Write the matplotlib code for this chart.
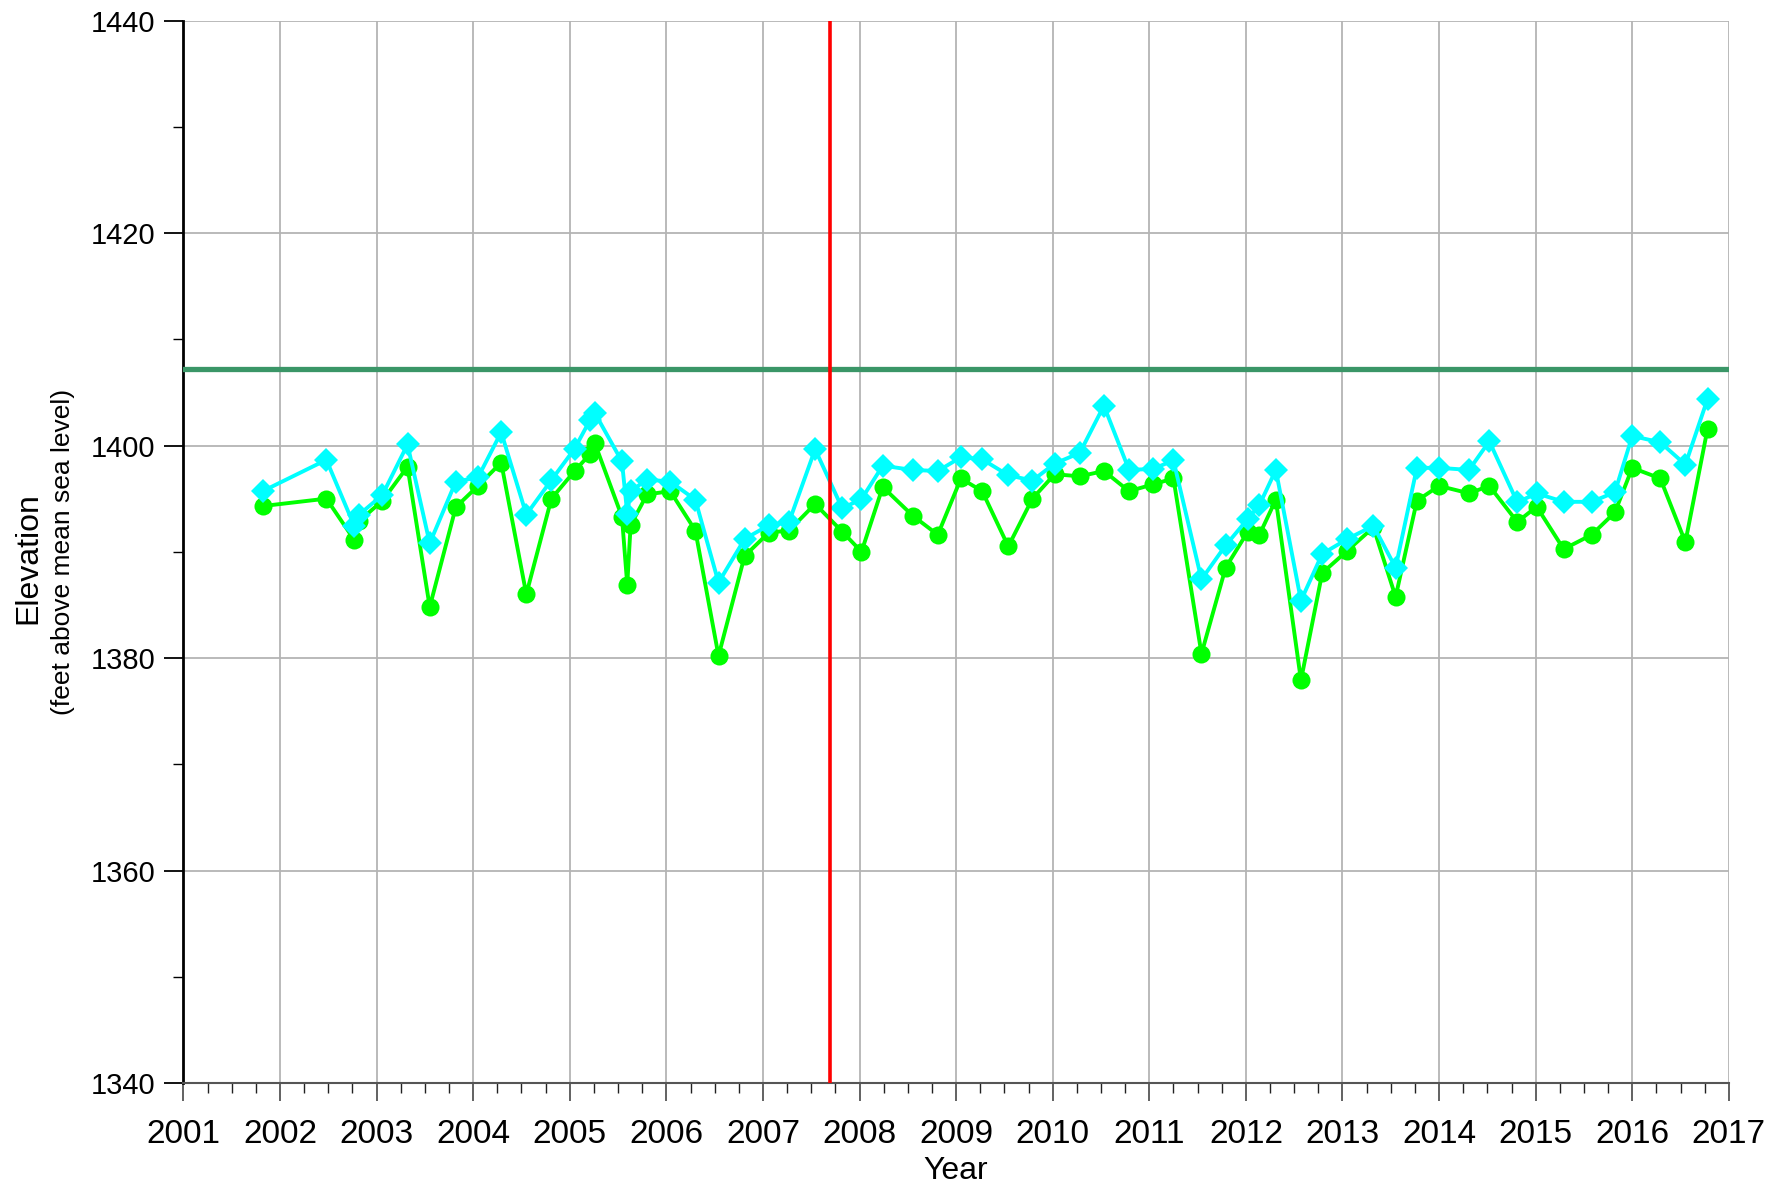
import matplotlib
matplotlib.use("Agg")
import matplotlib.pyplot as plt
from matplotlib.ticker import MultipleLocator

plt.rcParams['font.family'] = ['Liberation Sans', 'DejaVu Sans']

# decimal years of each measurement
dates = [2001.82, 2002.48, 2002.77, 2002.82, 2003.06, 2003.32, 2003.55, 2003.82,
         2004.05, 2004.29, 2004.55, 2004.81, 2005.05, 2005.21, 2005.26, 2005.54,
         2005.595, 2005.63, 2005.80, 2006.04, 2006.30, 2006.54, 2006.81, 2007.06,
         2007.27, 2007.54, 2007.82, 2008.02, 2008.24, 2008.55, 2008.81, 2009.05,
         2009.27, 2009.54, 2009.79, 2010.02, 2010.28, 2010.53, 2010.79, 2011.04,
         2011.25, 2011.54, 2011.79, 2012.02, 2012.14, 2012.31, 2012.57, 2012.79,
         2013.05, 2013.32, 2013.55, 2013.77, 2014.00, 2014.31, 2014.52, 2014.81,
         2015.01, 2015.29, 2015.58, 2015.82, 2016.00, 2016.29, 2016.55, 2016.78]

# green circles
lower_elev = [1394.3, 1395.0, 1391.1, 1392.9, 1394.8, 1398.0, 1384.8, 1394.2,
              1396.2, 1398.4, 1386.0, 1395.0, 1397.6, 1399.2, 1400.2, 1393.3,
              1386.9, 1392.5, 1395.4, 1395.7, 1392.0, 1380.2, 1389.6, 1391.8,
              1392.0, 1394.5, 1391.9, 1390.0, 1396.1, 1393.4, 1391.6, 1396.9,
              1395.7, 1390.5, 1395.0, 1397.3, 1397.1, 1397.6, 1395.7, 1396.35,
              1396.9, 1380.4, 1388.5, 1391.9, 1391.6, 1394.9, 1377.9, 1388.0,
              1390.1, 1392.3, 1385.75, 1394.8, 1396.2, 1395.5, 1396.2, 1392.8,
              1394.25, 1390.25, 1391.6, 1393.7, 1397.9, 1396.9, 1390.9, 1401.6]

# cyan diamonds
upper_elev = [1395.7, 1398.65, 1392.4, 1393.5, 1395.35, 1400.1, 1390.8, 1396.6,
              1397.0, 1401.25, 1393.5, 1396.75, 1399.7, 1402.4, 1403.05, 1398.5,
              1393.6, 1395.7, 1396.8, 1396.6, 1394.9, 1387.1, 1391.2, 1392.5,
              1392.8, 1399.65, 1394.1, 1394.95, 1398.1, 1397.7, 1397.6, 1398.9,
              1398.7, 1397.2, 1396.7, 1398.3, 1399.3, 1403.75, 1397.7, 1397.8,
              1398.6, 1387.4, 1390.6, 1393.1, 1394.4, 1397.7, 1385.4, 1389.8,
              1391.2, 1392.45, 1388.5, 1397.9, 1397.9, 1397.7, 1400.4, 1394.65,
              1395.5, 1394.7, 1394.7, 1395.6, 1400.9, 1400.3, 1398.2, 1404.4]

reference_elev = 1407.2
marker_date = 2007.69

year_ticks = list(range(2001, 2018))

fig = plt.figure(figsize=(17.86, 11.93), dpi=100)
ax = fig.add_axes([0.1027, 0.0922, 0.8653, 0.8906])

ax.plot(dates, lower_elev, color='#00ff00', lw=2.8, marker='o', ms=13,
        markeredgewidth=0, zorder=4)
ax.plot(dates, upper_elev, color='#00ffff', lw=2.8, marker='D', ms=12,
        markeredgewidth=0, zorder=5)
ax.axhline(reference_elev, color='#3a9667', lw=3.8, zorder=3)
ax.axvline(marker_date, color='#ff0000', lw=2.6, zorder=6)

ax.set_xlim(2001, 2017)
ax.set_ylim(1340, 1440)
ax.set_xticks(year_ticks)
ax.set_xticklabels([str(y) for y in year_ticks], fontsize=24)
ax.xaxis.set_minor_locator(MultipleLocator(0.25))
ax.yaxis.set_major_locator(MultipleLocator(20))
ax.yaxis.set_minor_locator(MultipleLocator(10))
ax.tick_params(axis='y', which='major', length=14, width=1.3, labelsize=21, pad=6)
ax.tick_params(axis='y', which='minor', length=7, width=1.0)
ax.tick_params(axis='x', which='major', length=13, width=1.3, color='#555555', pad=13)
ax.tick_params(axis='x', which='minor', length=7, width=1.0, color='#222222')

ax.grid(True, which='major', color='#b4b4b4', lw=1.3, zorder=0)
ax.set_axisbelow(True)
for side in ['top', 'right']:
    ax.spines[side].set_visible(False)
ax.spines['left'].set_linewidth(2.0)
ax.spines['bottom'].set_color('#555555')
ax.spines['bottom'].set_linewidth(1.5)

ax.set_xlabel('Year', fontsize=23, labelpad=4)
fig.text(0.016, 0.532, 'Elevation', rotation=90, fontsize=23, ha='center', va='center')
fig.text(0.035, 0.537, '(feet above mean sea level)', rotation=90, fontsize=19,
         ha='center', va='center')

fig.savefig('out.png', dpi=100)
